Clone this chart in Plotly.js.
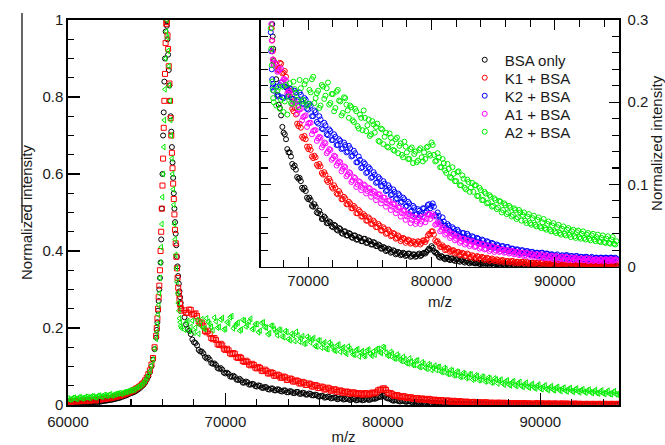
<!DOCTYPE html>
<html><head><meta charset="utf-8">
<script src="https://cdn.plot.ly/plotly-3.0.1.min.js"></script>
<style>html,body{margin:0;padding:0;background:#fff}#chart{width:665px;height:445px}</style>
</head><body><div id="chart"></div>
<script>
// m/z sampling positions (Da), main grid
const mz = [
60000,60200,60400,60600,60800,61000,61200,61400,61600,61800,62000,62200,62400,62600,62800,63000,63200,63400,63600,63800,64000,64200,64400,64600,64800,65000,65200,65400,65600,
65640,65680,65720,65760,65800,65840,65880,65920,65960,66000,66040,66080,66120,66160,66200,66240,66280,66320,66360,66400,66440,66480,66520,66560,66600,66640,66680,66720,66760,66800,66840,66880,66920,66960,67000,67040,67080,67120,67160,67200,
67400,67600,67800,68000,68200,68400,68600,68800,69000,69200,
69400,69600,69800,70000,70200,70400,70600,70800,71000,71200,
71400,71600,71800,72000,72200,72400,72600,72800,73000,73200,
73400,73600,73800,74000,74200,74400,74600,74800,75000,75200,
75400,75600,75800,76000,76200,76400,76600,76800,77000,77200,
77400,77600,77800,78000,78200,78400,78600,78800,79000,79200,
79400,79600,79800,80000,80200,80400,80600,80800,81000,81200,
81400,81600,81800,82000,82200,82400,82600,82800,83000,83200,
83400,83600,83800,84000,84200,84400,84600,84800,85000,85200,
85400,85600,85800,86000,86200,86400,86600,86800,87000,87200,
87400,87600,87800,88000,88200,88400,88600,88800,89000,89200,
89400,89600,89800,90000,90200,90400,90600,90800,91000,91200,
91400,91600,91800,92000,92200,92400,92600,92800,93000,93200,
93400,93600,93800,94000,94200,94400,94600,94800,95000];
// extra m/z positions, low-mass side
const mzA = [60100,60300,60500,60700,60900,61100,61300,61500,61700,61900,62100,62300,62500,62700,62900,63100,63300,63500,63700,63900,64100,64300,64500,64700,64900,65100,65300,65500];
// extra m/z positions, high-mass side
const mzB = [
67500,67700,67900,68100,68300,68500,68700,68900,69100,69300,
69500,69700,69900,70100,70300,70500,70700,70900,71100,71300,
71500,71700,71900,72100,72300,72500,72700,72900,73100,73300,
73500,73700,73900,74100,74300,74500,74700,74900,75100,75300,
75500,75700,75900,76100,76300,76500,76700,76900,77100,77300,
77500,77700,77900,78100,78300,78500,78700,78900,79100,79300,
79500,79700,79900,80100,80300,80500,80700,80900,81100,81300,
81500,81700,81900,82100,82300,82500,82700,82900,83100,83300,
83500,83700,83900,84100,84300,84500,84700,84900,85100,85300,
85500,85700,85900,86100,86300,86500,86700,86900,87100,87300,
87500,87700,87900,88100,88300,88500,88700,88900,89100,89300,
89500,89700,89900,90100,90300,90500,90700,90900,91100,91300,
91500,91700,91900,92100,92300,92500,92700,92900,93100,93300,
93500,93700,93900,94100,94300,94500,94700,94900];

// first m/z of the K2 and A1 series on the main grid (they are shown in the inset only)
const insetSeriesStart = 66600;

const bsaOnly = [
0.004,0.003,0.005,0.004,0.005,0.006,0.005,0.007,0.007,0.008,0.009,0.010,0.011,0.013,0.014,0.016,0.018,0.021,0.024,0.027,0.031,0.034,0.039,0.045,0.053,0.066,0.085,0.118,0.175,
0.195,0.215,0.245,0.270,0.300,0.330,0.370,0.430,0.510,0.600,0.700,0.760,0.840,0.900,0.970,1.000,0.985,0.950,0.910,0.870,0.830,0.790,0.750,0.710,0.670,0.630,0.590,0.550,0.510,0.475,0.445,0.415,0.385,0.360,0.335,0.315,0.295,0.280,0.265,0.250,
0.228,0.197,0.184,0.163,0.155,0.139,0.134,0.121,0.118,0.107,
0.104,0.094,0.092,0.082,0.081,0.073,0.073,0.065,0.064,0.058,
0.059,0.053,0.054,0.048,0.050,0.044,0.046,0.040,0.043,0.038,
0.040,0.035,0.038,0.033,0.035,0.031,0.034,0.029,0.031,0.027,
0.029,0.025,0.026,0.022,0.023,0.020,0.021,0.018,0.019,0.016,
0.017,0.015,0.016,0.014,0.016,0.013,0.015,0.013,0.016,0.014,
0.017,0.018,0.022,0.025,0.019,0.017,0.012,0.013,0.010,0.011,
0.009,0.010,0.008,0.009,0.007,0.008,0.006,0.007,0.005,0.006,
0.005,0.004,0.005,0.003,0.004,0.004,0.003,0.004,0.002,0.003,
0.003,0.002,0.003,0.002,0.003,0.002,0.002,0.003,0.002,0.002,
0.001,0.002,0.002,0.001,0.002,0.001,0.002,0.001,0.001,0.002,
0.001,0.001,0.002,0.001,0.001,0.001,0.002,0.001,0.001,0.001,
0.001,0.001,0.001,0.000,0.001,0.001,0.001,0.000,0.001,0.001,
0.000,0.001,0.001,0.000,0.001,0.000,0.001,0.000,0.001];
const bsaOnlyA = [0.004,0.004,0.004,0.005,0.005,0.006,0.006,0.007,0.008,0.008,0.009,0.011,0.012,0.013,0.015,0.017,0.019,0.022,0.025,0.029,0.032,0.036,0.042,0.049,0.058,0.074,0.100,0.145];
const bsaOnlyB = [
0.209,0.193,0.170,0.161,0.143,0.139,0.125,0.123,0.109,0.108,
0.096,0.096,0.084,0.084,0.074,0.076,0.066,0.068,0.058,0.061,
0.053,0.055,0.049,0.051,0.045,0.047,0.041,0.043,0.038,0.041,
0.036,0.038,0.033,0.036,0.031,0.034,0.029,0.032,0.027,0.030,
0.025,0.027,0.022,0.024,0.019,0.022,0.017,0.020,0.015,0.018,
0.014,0.017,0.013,0.016,0.012,0.015,0.012,0.015,0.013,0.016,
0.016,0.020,0.021,0.023,0.017,0.015,0.011,0.012,0.009,0.011,
0.008,0.010,0.007,0.009,0.006,0.008,0.005,0.007,0.004,0.006,
0.004,0.005,0.003,0.005,0.003,0.004,0.002,0.004,0.002,0.003,
0.002,0.003,0.001,0.003,0.002,0.003,0.001,0.002,0.002,0.003,
0.001,0.002,0.001,0.002,0.001,0.002,0.001,0.002,0.001,0.001,
0.001,0.002,0.000,0.001,0.001,0.002,0.000,0.001,0.001,0.001,
0.000,0.001,0.001,0.001,0.000,0.001,0.001,0.000,0.001,0.001,
0.000,0.001,0.000,0.001,0.001,0.000,0.001,0.000];

const k1Bsa = [
0.009,0.008,0.010,0.009,0.011,0.010,0.012,0.011,0.013,0.012,0.014,0.015,0.016,0.017,0.019,0.021,0.023,0.025,0.028,0.031,0.035,0.039,0.044,0.050,0.058,0.071,0.090,0.122,0.180,
0.200,0.225,0.250,0.280,0.310,0.350,0.400,0.450,0.510,0.570,0.640,0.720,0.790,0.860,0.940,0.990,0.995,0.960,0.925,0.880,0.835,0.790,0.745,0.700,0.655,0.615,0.575,0.535,0.495,0.455,0.420,0.385,0.355,0.330,0.305,0.290,0.275,0.262,0.252,0.245,
0.246,0.240,0.247,0.236,0.231,0.212,0.206,0.189,0.185,0.171,
0.169,0.156,0.155,0.143,0.142,0.132,0.133,0.122,0.122,0.112,
0.112,0.103,0.104,0.095,0.096,0.088,0.089,0.082,0.083,0.076,
0.077,0.071,0.072,0.065,0.067,0.061,0.062,0.056,0.058,0.052,
0.054,0.048,0.050,0.044,0.046,0.041,0.043,0.038,0.040,0.035,
0.036,0.033,0.034,0.031,0.032,0.029,0.030,0.028,0.030,0.029,
0.032,0.033,0.040,0.043,0.039,0.030,0.028,0.024,0.024,0.021,
0.022,0.019,0.020,0.017,0.018,0.015,0.016,0.013,0.015,0.012,
0.013,0.011,0.012,0.010,0.011,0.009,0.010,0.008,0.009,0.007,
0.008,0.007,0.008,0.006,0.007,0.006,0.007,0.005,0.006,0.005,
0.006,0.004,0.005,0.004,0.005,0.004,0.005,0.003,0.005,0.004,
0.004,0.003,0.005,0.003,0.004,0.003,0.004,0.003,0.004,0.002,
0.004,0.003,0.003,0.002,0.004,0.003,0.003,0.002,0.003,0.002,
0.003,0.002,0.003,0.002,0.003,0.002,0.003,0.002,0.003];
const k1BsaA = [0.010,0.009,0.011,0.010,0.012,0.011,0.013,0.012,0.014,0.013,0.015,0.016,0.018,0.018,0.020,0.022,0.024,0.027,0.030,0.033,0.037,0.042,0.047,0.054,0.064,0.080,0.105,0.150];
const k1BsaB = [
0.239,0.248,0.235,0.238,0.217,0.214,0.192,0.193,0.174,0.174,
0.158,0.159,0.146,0.146,0.134,0.135,0.124,0.125,0.114,0.115,
0.105,0.107,0.097,0.099,0.089,0.092,0.082,0.085,0.076,0.079,
0.071,0.074,0.065,0.069,0.061,0.064,0.056,0.060,0.052,0.056,
0.048,0.052,0.044,0.048,0.040,0.045,0.037,0.041,0.034,0.038,
0.031,0.035,0.029,0.033,0.028,0.031,0.027,0.031,0.027,0.032,
0.030,0.038,0.039,0.043,0.032,0.031,0.024,0.026,0.020,0.023,
0.018,0.020,0.016,0.018,0.014,0.017,0.013,0.016,0.011,0.014,
0.010,0.013,0.009,0.012,0.008,0.011,0.007,0.010,0.007,0.009,
0.006,0.008,0.005,0.007,0.005,0.007,0.004,0.006,0.004,0.006,
0.004,0.006,0.003,0.005,0.003,0.005,0.003,0.005,0.003,0.004,
0.003,0.004,0.002,0.004,0.003,0.004,0.002,0.004,0.002,0.004,
0.002,0.004,0.002,0.003,0.002,0.003,0.002,0.003,0.002,0.003,
0.002,0.003,0.002,0.003,0.002,0.003,0.002,0.003];

// K2 and A1 start at insetSeriesStart
const k2Bsa = [
0.640,0.590,0.550,0.500,0.460,0.420,0.380,0.345,0.310,0.285,0.262,0.240,0.228,0.218,0.222,0.214,
0.219,0.208,0.224,0.205,0.218,0.209,0.216,0.204,0.212,0.203,
0.209,0.198,0.203,0.191,0.196,0.183,0.188,0.174,0.179,0.167,
0.172,0.160,0.165,0.154,0.158,0.148,0.153,0.144,0.148,0.140,
0.144,0.135,0.138,0.127,0.130,0.121,0.125,0.115,0.119,0.109,
0.112,0.103,0.107,0.098,0.101,0.093,0.096,0.088,0.091,0.083,
0.087,0.079,0.082,0.074,0.077,0.068,0.072,0.064,0.068,0.064,
0.071,0.068,0.076,0.074,0.073,0.061,0.062,0.053,0.055,0.047,
0.050,0.043,0.046,0.040,0.043,0.037,0.041,0.035,0.038,0.033,
0.036,0.031,0.034,0.029,0.032,0.027,0.030,0.025,0.028,0.024,
0.026,0.022,0.025,0.021,0.024,0.020,0.022,0.019,0.021,0.017,
0.020,0.017,0.019,0.016,0.018,0.015,0.017,0.014,0.017,0.014,
0.016,0.013,0.015,0.013,0.015,0.012,0.014,0.012,0.014,0.011,
0.013,0.011,0.013,0.010,0.012,0.011,0.012,0.010,0.012,0.010,
0.011,0.009,0.011,0.010,0.011,0.009,0.011,0.010,0.010];
const k2BsaB = [
0.207,0.221,0.206,0.219,0.207,0.217,0.204,0.214,0.201,0.212,
0.198,0.205,0.192,0.198,0.183,0.190,0.176,0.183,0.168,0.175,
0.161,0.167,0.154,0.161,0.148,0.155,0.143,0.151,0.139,0.147,
0.134,0.141,0.127,0.134,0.120,0.127,0.114,0.121,0.108,0.115,
0.102,0.109,0.098,0.104,0.092,0.099,0.087,0.094,0.082,0.089,
0.078,0.084,0.073,0.079,0.067,0.074,0.063,0.070,0.062,0.071,
0.066,0.075,0.071,0.077,0.063,0.066,0.055,0.060,0.050,0.052,
0.044,0.048,0.040,0.045,0.037,0.041,0.035,0.040,0.032,0.037,
0.030,0.035,0.028,0.033,0.026,0.031,0.024,0.029,0.023,0.027,
0.022,0.025,0.020,0.024,0.019,0.022,0.018,0.021,0.017,0.020,
0.016,0.019,0.015,0.018,0.014,0.017,0.013,0.017,0.012,0.016,
0.012,0.015,0.011,0.014,0.011,0.013,0.010,0.014,0.010,0.013,
0.009,0.013,0.010,0.012,0.009,0.012,0.009,0.011,0.009,0.011,
0.009,0.011,0.009,0.011,0.009,0.011,0.009,0.011];

const a1Bsa = [
0.660,0.620,0.580,0.540,0.500,0.460,0.420,0.385,0.350,0.320,0.295,0.275,0.262,0.252,0.248,0.245,
0.247,0.238,0.241,0.228,0.226,0.213,0.211,0.200,0.199,0.191,
0.192,0.182,0.184,0.174,0.175,0.165,0.166,0.156,0.157,0.148,
0.150,0.140,0.142,0.132,0.134,0.126,0.127,0.119,0.121,0.112,
0.114,0.105,0.108,0.100,0.103,0.096,0.099,0.092,0.095,0.089,
0.091,0.085,0.088,0.081,0.084,0.077,0.080,0.073,0.076,0.069,
0.072,0.065,0.068,0.061,0.064,0.057,0.060,0.055,0.058,0.055,
0.060,0.058,0.064,0.062,0.061,0.052,0.052,0.045,0.047,0.041,
0.043,0.037,0.039,0.034,0.036,0.031,0.034,0.029,0.032,0.027,
0.030,0.025,0.028,0.024,0.027,0.022,0.025,0.021,0.024,0.020,
0.022,0.019,0.021,0.018,0.020,0.017,0.019,0.016,0.018,0.015,
0.017,0.014,0.016,0.014,0.015,0.013,0.015,0.012,0.014,0.012,
0.013,0.011,0.013,0.010,0.012,0.010,0.012,0.009,0.011,0.009,
0.011,0.009,0.010,0.008,0.010,0.008,0.010,0.008,0.009,0.008,
0.009,0.007,0.009,0.008,0.009,0.007,0.009,0.008,0.008];
const a1BsaB = [
0.237,0.240,0.225,0.228,0.211,0.213,0.197,0.200,0.186,0.191,
0.178,0.183,0.170,0.175,0.161,0.166,0.153,0.158,0.145,0.151,
0.138,0.143,0.130,0.135,0.123,0.128,0.116,0.122,0.110,0.115,
0.103,0.109,0.097,0.104,0.093,0.100,0.089,0.096,0.085,0.092,
0.081,0.088,0.077,0.084,0.073,0.080,0.069,0.076,0.065,0.072,
0.061,0.068,0.057,0.064,0.053,0.061,0.052,0.060,0.052,0.061,
0.054,0.064,0.058,0.064,0.051,0.054,0.043,0.048,0.039,0.044,
0.035,0.040,0.032,0.037,0.029,0.034,0.027,0.032,0.025,0.031,
0.024,0.029,0.022,0.028,0.021,0.026,0.019,0.025,0.018,0.023,
0.018,0.021,0.017,0.020,0.016,0.019,0.015,0.018,0.014,0.017,
0.013,0.017,0.012,0.016,0.012,0.015,0.011,0.015,0.010,0.014,
0.010,0.013,0.009,0.013,0.008,0.012,0.009,0.012,0.008,0.011,
0.008,0.011,0.008,0.010,0.008,0.010,0.007,0.010,0.007,0.009,
0.007,0.009,0.007,0.009,0.007,0.009,0.007,0.009];

const a2Bsa = [
0.017,0.015,0.019,0.016,0.020,0.018,0.021,0.019,0.022,0.020,0.024,0.022,0.025,0.026,0.024,0.028,0.030,0.029,0.033,0.035,0.038,0.040,0.046,0.050,0.058,0.070,0.088,0.118,0.172,
0.190,0.210,0.235,0.260,0.290,0.330,0.370,0.410,0.470,0.540,0.600,0.670,0.740,0.820,0.900,0.970,1.000,0.955,0.920,0.880,0.830,0.790,0.740,0.700,0.640,0.600,0.560,0.520,0.470,0.430,0.390,0.355,0.320,0.290,0.265,0.245,0.225,0.215,0.205,0.200,
0.196,0.218,0.203,0.188,0.221,0.207,0.199,0.225,0.211,0.194,
0.217,0.203,0.226,0.198,0.212,0.231,0.205,0.214,0.196,0.219,
0.208,0.224,0.199,0.210,0.193,0.215,0.201,0.187,0.205,0.190,
0.196,0.178,0.192,0.171,0.185,0.166,0.181,0.172,0.159,0.177,
0.163,0.174,0.152,0.167,0.158,0.146,0.162,0.151,0.141,0.157,
0.147,0.136,0.152,0.139,0.131,0.145,0.137,0.127,0.142,0.133,
0.139,0.145,0.137,0.151,0.136,0.129,0.133,0.121,0.126,0.114,
0.119,0.108,0.113,0.104,0.116,0.099,0.107,0.094,0.103,0.096,
0.091,0.099,0.086,0.093,0.081,0.089,0.078,0.085,0.074,0.081,
0.072,0.079,0.069,0.075,0.066,0.072,0.063,0.069,0.060,0.066,
0.063,0.056,0.061,0.053,0.059,0.051,0.057,0.049,0.054,0.047,
0.052,0.045,0.050,0.043,0.048,0.041,0.046,0.040,0.045,0.039,
0.043,0.037,0.042,0.036,0.040,0.035,0.039,0.034,0.038,0.033,
0.036,0.031,0.035,0.030,0.034,0.029,0.033,0.028,0.031];
const a2BsaA = [0.014,0.018,0.016,0.020,0.017,0.021,0.019,0.023,0.020,0.024,0.022,0.026,0.024,0.028,0.026,0.029,0.031,0.032,0.034,0.037,0.039,0.043,0.048,0.054,0.063,0.078,0.103,0.146];
const a2BsaB = [
0.214,0.192,0.219,0.201,0.185,0.223,0.198,0.216,0.203,0.227,
0.201,0.222,0.196,0.215,0.228,0.199,0.211,0.193,0.221,0.204,
0.217,0.197,0.210,0.189,0.213,0.202,0.184,0.206,0.197,0.181,
0.194,0.176,0.189,0.168,0.181,0.190,0.165,0.179,0.161,0.173,
0.170,0.153,0.168,0.149,0.163,0.145,0.157,0.142,0.155,0.138,
0.150,0.133,0.146,0.131,0.143,0.126,0.140,0.129,0.144,0.128,
0.131,0.146,0.135,0.148,0.128,0.138,0.121,0.131,0.117,0.125,
0.109,0.121,0.104,0.115,0.099,0.111,0.096,0.106,0.091,0.102,
0.099,0.086,0.096,0.081,0.091,0.077,0.087,0.073,0.083,0.070,
0.080,0.066,0.077,0.064,0.074,0.061,0.071,0.058,0.069,0.056,
0.066,0.053,0.064,0.051,0.062,0.049,0.060,0.047,0.058,0.045,
0.055,0.043,0.053,0.041,0.051,0.039,0.049,0.038,0.047,0.036,
0.045,0.035,0.044,0.034,0.043,0.033,0.041,0.032,0.040,0.031,
0.039,0.030,0.038,0.029,0.037,0.028,0.036,0.027];

const seriesNames = ['BSA only','K1 + BSA','K2 + BSA','A1 + BSA','A2 + BSA'];
const seriesColors = ['#000000','#ff0000','#0000ff','#ff00ff','#00ee00'];

const mzSub = mz.filter(v => v >= insetSeriesStart);
const xFull = mz.concat(mzA, mzB);
const xSub = mzSub.concat(mzB);
const yBsa = bsaOnly.concat(bsaOnlyA, bsaOnlyB);
const yK1 = k1Bsa.concat(k1BsaA, k1BsaB);
const yK2 = k2Bsa.concat(k2BsaB);
const yA1 = a1Bsa.concat(a1BsaB);
const yA2 = a2Bsa.concat(a2BsaA, a2BsaB);

const FONT = 'Liberation Sans, Arial, Helvetica, sans-serif';
const TXT = '#1a1a1a';

function mainTrace(y, color, symbol) {
  return {x: xFull, y: y, xaxis:'x', yaxis:'y', type:'scatter', mode:'markers', showlegend:false,
    hoverinfo:'skip',
    marker:{symbol: symbol, size:5, color: color, line:{color: color, width:1}}};
}
function insetTrace(x, y, i) {
  return {x: x, y: y, xaxis:'x2', yaxis:'y2', type:'scatter', mode:'markers', name: seriesNames[i],
    legend: i === 0 ? 'legend' : 'legend' + (i + 1),
    hoverinfo:'skip',
    marker:{symbol:'circle-open', size:5, color: seriesColors[i], line:{color: seriesColors[i], width:1}}};
}

const data = [
  mainTrace(yBsa, seriesColors[0], 'circle-open'),
  mainTrace(yK1, seriesColors[1], 'square-open'),
  mainTrace(yA2, seriesColors[4], 'triangle-left-open'),
  insetTrace(xFull, yBsa, 0),
  insetTrace(xFull, yK1, 1),
  insetTrace(xSub, yK2, 2),
  insetTrace(xSub, yA1, 3),
  insetTrace(xFull, yA2, 4)
];

const tickFont = {family: FONT, size:15, color: TXT};
const legendYs = [0.8961, 0.8494, 0.8026, 0.7558, 0.7091];
function legendBox(y) {
  return {x:0.72, y:y, xanchor:'left', yanchor:'middle', bgcolor:'rgba(0,0,0,0)', borderwidth:0,
    font:{family:FONT, size:15, color:TXT}, itemwidth:30};
}
const layout = {
  width:665, height:445,
  margin:{l:68, r:46, t:20, b:40},
  paper_bgcolor:'#ffffff', plot_bgcolor:'#ffffff',
  font:{family: FONT, size:15, color: TXT},
  xaxis:{domain:[0,1], anchor:'y', range:[60000,95000], tick0:60000, dtick:10000, tickformat:'d',
    ticks:'inside', ticklen:12, tickwidth:1.2, tickcolor:'#000', ticklabelstandoff:2,
    minor:{dtick:2000, ticks:'inside', ticklen:6, tickwidth:1.1, tickcolor:'#000', showgrid:false},
    showline:true, linecolor:'#000', linewidth:1.6, mirror:true, showgrid:false, zeroline:false,
    tickfont: tickFont, title:{text:'m/z', font:{family:FONT, size:15, color:TXT}, standoff:13}},
  yaxis:{domain:[0,1], anchor:'x', range:[0,1], tick0:0, dtick:0.2,
    ticks:'inside', ticklen:12, tickwidth:1.2, tickcolor:'#000',
    minor:{dtick:0.05, ticks:'inside', ticklen:6, tickwidth:1.1, tickcolor:'#000', showgrid:false},
    showline:true, linecolor:'#000', linewidth:1.6, mirror:true, showgrid:false, zeroline:false,
    tickfont: tickFont, title:{text:'Normalized intensity', font:{family:FONT, size:15, color:TXT}, standoff:6}},
  xaxis2:{domain:[0.3503,1], anchor:'y2', range:[66170,95210], tick0:70000, dtick:10000, tickformat:'d',
    ticks:'inside', ticklen:10, tickwidth:1.2, tickcolor:'#000', ticklabelstandoff:0,
    minor:{dtick:2000, ticks:'inside', ticklen:7, tickwidth:1.1, tickcolor:'#000', showgrid:false},
    showline:true, linecolor:'#000', linewidth:1.6, mirror:'allticks', showgrid:false, zeroline:false,
    tickfont: tickFont, title:{text:'m/z', font:{family:FONT, size:15, color:TXT}, standoff:8}},
  yaxis2:{domain:[0.3592,1], anchor:'x2', side:'right', range:[0,0.3], tick0:0, dtick:0.1,
    ticks:'inside', ticklen:10, tickwidth:1.2, tickcolor:'#000', ticklabelstandoff:4,
    minor:{dtick:0.02, ticks:'inside', ticklen:7, tickwidth:1.1, tickcolor:'#000', showgrid:false},
    showline:true, linecolor:'#000', linewidth:1.6, mirror:'allticks', showgrid:false, zeroline:false,
    tickfont: tickFont, title:{text:'Normalized intensity', font:{family:FONT, size:15, color:TXT}, standoff:3}},
  showlegend:true,
  legend: legendBox(legendYs[0]),
  legend2: legendBox(legendYs[1]),
  legend3: legendBox(legendYs[2]),
  legend4: legendBox(legendYs[3]),
  legend5: legendBox(legendYs[4]),
  shapes:[{type:'line', xref:'paper', yref:'paper', x0:-0.0835, x1:-0.0835, y0:0.4727, y1:1.018,
    line:{color:'#000', width:1.2}}]
};

Plotly.newPlot('chart', data, layout, {displayModeBar:false, staticPlot:true});
</script>
</body></html>
